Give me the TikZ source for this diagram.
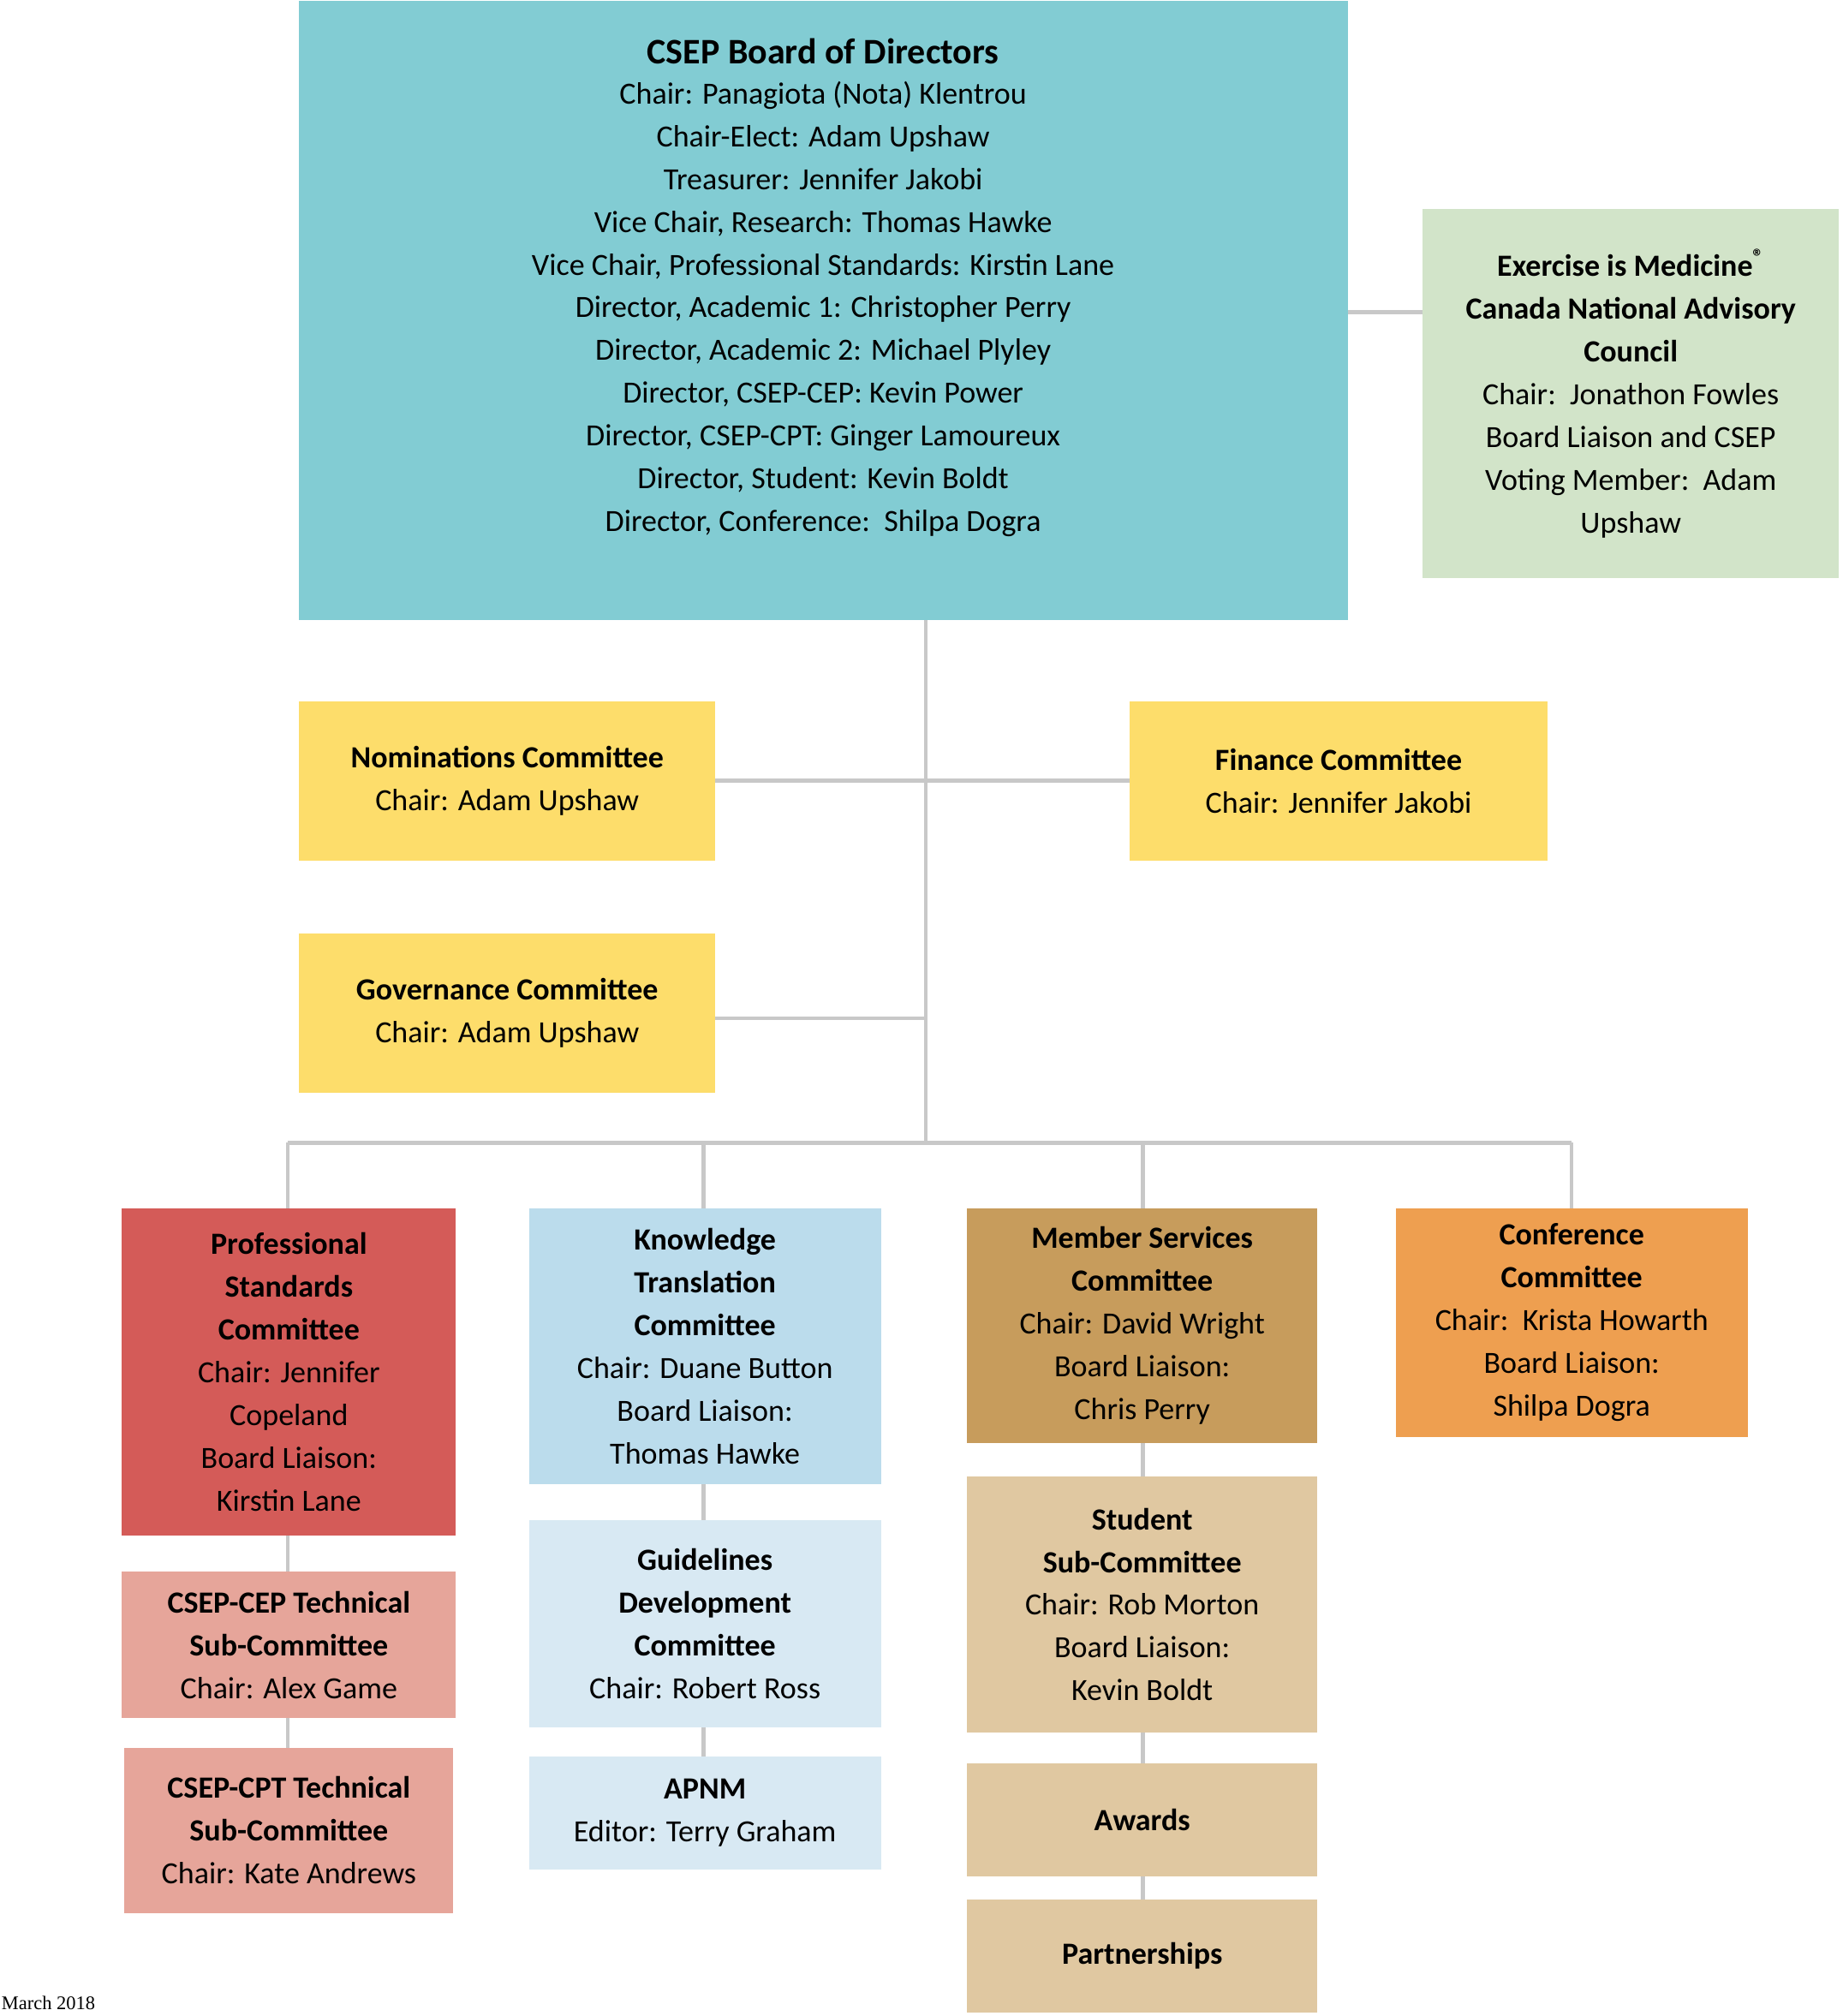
\documentclass[tikz,border=0pt]{standalone}
\usepackage{fontspec}
\setmainfont{Carlito}
\newfontfamily\timesf{Liberation Serif}
\definecolor{cboard}{HTML}{82CCD3}
\definecolor{ceim}{HTML}{D2E4C9}
\definecolor{cyel}{HTML}{FDDD6B}
\definecolor{cred}{HTML}{D45B58}
\definecolor{cpink}{HTML}{E6A59A}
\definecolor{cblue}{HTML}{BBDCEC}
\definecolor{clblue}{HTML}{D8E9F3}
\definecolor{cbrown}{HTML}{C79C5C}
\definecolor{ctan}{HTML}{E0C8A1}
\definecolor{corange}{HTML}{EE9F50}
\definecolor{cline}{HTML}{C8C8C8}
\tikzset{
  lbl/.style={align=center,font=\fontsize{24}{33.3}\selectfont},
  conn/.style={draw=cline,line width=3pt}
}
\newcommand{\boxat}[6]{% name, x1,y1,x2,y2,color
  \fill[#6] (#2,#3) rectangle (#4,#5);
  \coordinate (#1) at ({(#2+#4)/2},{(#3+#5)/2});
}
\begin{document}
\begin{tikzpicture}[x=1pt,y=-1pt]
\useasboundingbox[fill=white] (0,0) rectangle (1435,1570);
% connectors
\draw[conn] (721,483) -- (721,890);
\draw[conn] (557,608) -- (880,608);
\draw[conn] (557,793) -- (721,793);
\draw[conn] (1050,243) -- (1108,243);
\draw[conn] (224,890) -- (1224,890);
\draw[conn] (224,890) -- (224,1361);
\draw[conn] (548,890) -- (548,1368);
\draw[conn] (890,890) -- (890,1479);
\draw[conn] (1224,890) -- (1224,941);
% boxes
\boxat{board}{233}{1}{1050}{483}{cboard}
\boxat{eim}{1108}{163}{1432}{450}{ceim}
\boxat{nom}{233}{546}{557}{670}{cyel}
\boxat{fin}{880}{546}{1205}{670}{cyel}
\boxat{gov}{233}{727}{557}{851}{cyel}
\boxat{ps}{95}{941}{355}{1196}{cred}
\boxat{cep}{95}{1224}{355}{1338}{cpink}
\boxat{cpt}{97}{1361}{353}{1490}{cpink}
\boxat{kt}{412}{941}{686}{1156}{cblue}
\boxat{gd}{412}{1184}{686}{1345}{clblue}
\boxat{apnm}{412}{1368}{686}{1456}{clblue}
\boxat{ms}{753}{941}{1026}{1124}{cbrown}
\boxat{st}{753}{1150}{1026}{1349}{ctan}
\boxat{aw}{753}{1373}{1026}{1461}{ctan}
\boxat{pa}{753}{1479}{1026}{1567}{ctan}
\boxat{conf}{1087}{941}{1361}{1119}{corange}
% texts
\node[lbl] (tboard) at (641,224) {{\bfseries\fontsize{28}{36}\selectfont CSEP Board of Directors}\\[-2pt]
Chair: Panagiota (Nota) Klentrou\\ Chair-Elect: Adam Upshaw\\ Treasurer: Jennifer Jakobi\\
Vice Chair, Research: Thomas Hawke\\ Vice Chair, Professional Standards: Kirstin Lane\\
Director, Academic 1: Christopher Perry\\ Director, Academic 2: Michael Plyley\\
Director, CSEP-CEP: Kevin Power\\ Director, CSEP-CPT: Ginger Lamoureux\\
Director, Student: Kevin Boldt\\ Director, Conference:\ \ Shilpa Dogra};
\node[lbl] (teim) at (eim) {\textbf{Exercise is Medicine\textsuperscript{®}}\\ \textbf{Canada National Advisory}\\ \textbf{Council}\\
Chair:\ \ Jonathon Fowles\\ Board Liaison and CSEP\\ Voting Member:\ \ Adam\\ Upshaw};
\node[lbl] (tnom) at (nom) {\textbf{Nominations Committee}\\ Chair: Adam Upshaw};
\node[lbl] (tfin) at (fin) {\textbf{Finance Committee}\\ Chair: Jennifer Jakobi};
\node[lbl] (tgov) at (gov) {\textbf{Governance Committee}\\ Chair: Adam Upshaw};
\node[lbl] (tps) at (ps) {\textbf{Professional}\\ \textbf{Standards}\\ \textbf{Committee}\\ Chair: Jennifer\\ Copeland\\ Board Liaison:\\ Kirstin Lane};
\node[lbl] (tcep) at (cep) {\textbf{CSEP-CEP Technical}\\ \textbf{Sub-Committee}\\ Chair: Alex Game};
\node[lbl] (tcpt) at (cpt) {\textbf{CSEP-CPT Technical}\\ \textbf{Sub-Committee}\\ Chair: Kate Andrews};
\node[lbl] (tkt) at (kt) {\textbf{Knowledge}\\ \textbf{Translation}\\ \textbf{Committee}\\ Chair: Duane Button\\ Board Liaison:\\ Thomas Hawke};
\node[lbl] (tgd) at (gd) {\textbf{Guidelines}\\ \textbf{Development}\\ \textbf{Committee}\\ Chair: Robert Ross};
\node[lbl] (tapnm) at (apnm) {\textbf{APNM}\\ Editor: Terry Graham};
\node[lbl] (tms) at (ms) {\textbf{Member Services}\\ \textbf{Committee}\\ Chair: David Wright\\ Board Liaison:\\ Chris Perry};
\node[lbl] (tst) at (st) {\textbf{Student}\\ \textbf{Sub-Committee}\\ Chair: Rob Morton\\ Board Liaison:\\ Kevin Boldt};
\node[lbl] (taw) at (aw) {\textbf{Awards}};
\node[lbl] (tpa) at (pa) {\textbf{Partnerships}};
\node[lbl] (tconf) at (conf) {\textbf{Conference}\\ \textbf{Committee}\\ Chair:\ \ Krista Howarth\\ Board Liaison:\\ Shilpa Dogra};
\node[anchor=south west,inner sep=0pt,font=\timesf\fontsize{15}{16}\selectfont] (date) at (1,1565) {March 2018};
\end{tikzpicture}
\end{document}
